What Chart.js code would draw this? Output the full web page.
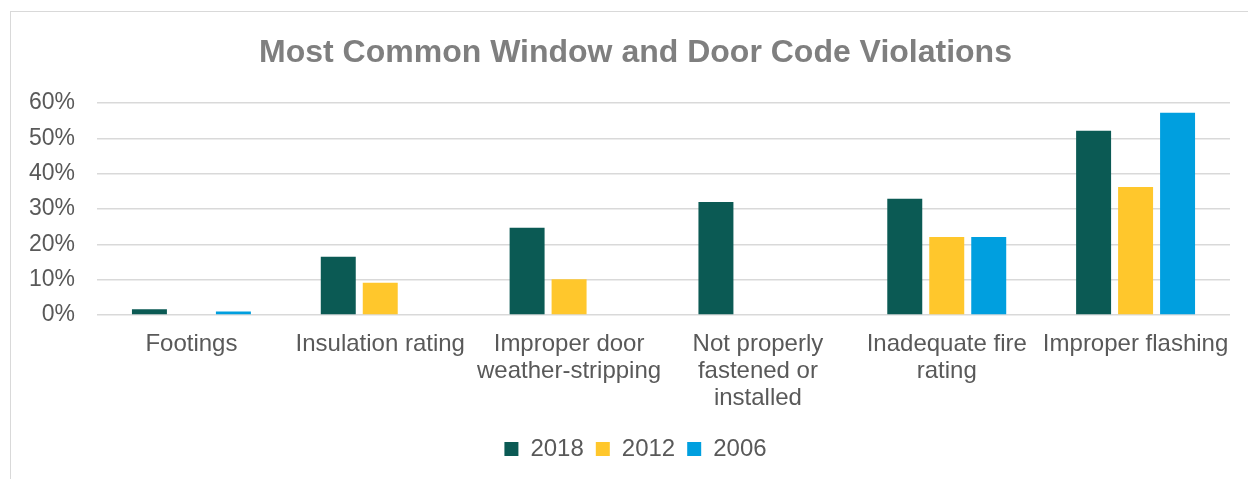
<!DOCTYPE html>
<html>
<head>
<meta charset="utf-8">
<script src="https://cdn.jsdelivr.net/npm/chart.js@4"></script>
<style>
  body { margin: 0; background: #fff; overflow: hidden; }
  #frame { position: absolute; left: 10px; top: 11px; width: 1300px; height: 600px; border: 1.5px solid #d9d9d9; }
  #wrap { position: absolute; left: 0; top: 0; width: 1248px; height: 479px; }
</style>
</head>
<body>
<div id="frame"></div>
<div id="wrap"><canvas id="mycanvas" width="1248" height="479"></canvas></div>
<script>
// chart data
var categories = [
    ["Footings"],
    ["Insulation rating"],
    ["Improper door", "weather-stripping"],
    ["Not properly", "fastened or", "installed"],
    ["Inadequate fire", "rating"],
    ["Improper flashing"]
];
var seriesNames = ["2018", "2012", "2006"];
var values2018 = [1.6, 16.5, 24.7, 32, 32.9, 52.1];
var values2012 = [null, 9.1, 10.1, null, 22.1, 36.2];
var values2006 = [1.0, null, null, null, 22.1, 57.2];
var yTicks = [0, 10, 20, 30, 40, 50, 60];

var colors = ['#0b5a54', '#ffc72c', '#009fdf'];
var font = "'Liberation Sans', Arial, sans-serif";

var chartdata = {
    labels: categories,
    datasets: [values2018, values2012, values2006].map(function(v, i){
        return {
            label: seriesNames[i],
            data: v,
            backgroundColor: colors[i],
            borderWidth: 0,
            categoryPercentage: 0.667,
            barPercentage: 0.833
        };
    })
};

var ctx = document.getElementById('mycanvas');
var barGraph = new Chart(ctx, {
    type: 'bar',
    data: chartdata,
    options: {
        responsive: false,
        animation: false,
        layout: { padding: { left: 27, right: 4, top: 0, bottom: 8 } },
        plugins: {
            title: {
                display: true,
                text: 'Most Common Window and Door Code Violations',
                color: '#7f7f7f',
                font: { family: font, size: 32, weight: 'bold', lineHeight: 1.2 },
                padding: { top: 34, bottom: 30.5 }
            },
            legend: {
                position: 'bottom',
                labels: {
                    color: '#595959',
                    font: { family: font, size: 24 },
                    boxWidth: 14,
                    boxHeight: 14,
                    padding: 12
                }
            },
            tooltip: { enabled: false }
        },
        scales: {
            x: {
                grid: { display: false, drawTicks: false },
                border: { display: false },
                ticks: {
                    color: '#595959',
                    font: { family: font, size: 24, lineHeight: 1.125 },
                    padding: 15.5,
                    maxRotation: 0,
                    autoSkip: false
                },
                afterFit: function(scale){ scale.height = 110; }
            },
            y: {
                min: 0,
                max: 60,
                afterBuildTicks: function(scale){
                    scale.ticks = yTicks.map(function(v){ return { value: v }; });
                },
                grid: { color: '#d9d9d9', lineWidth: 1.5, drawTicks: false },
                border: { display: false },
                ticks: {
                    color: '#595959',
                    font: { family: font, size: 23 },
                    padding: 22,
                    callback: function(v){ return v + '%'; }
                },
                afterFit: function(scale){ scale.width = 70; }
            },
            y2: {
                position: 'right',
                display: true,
                grid: { display: false, drawTicks: false },
                border: { display: false },
                ticks: { display: false },
                afterFit: function(scale){ scale.width = 14; }
            }
        }
    }
});
</script>
</body>
</html>
